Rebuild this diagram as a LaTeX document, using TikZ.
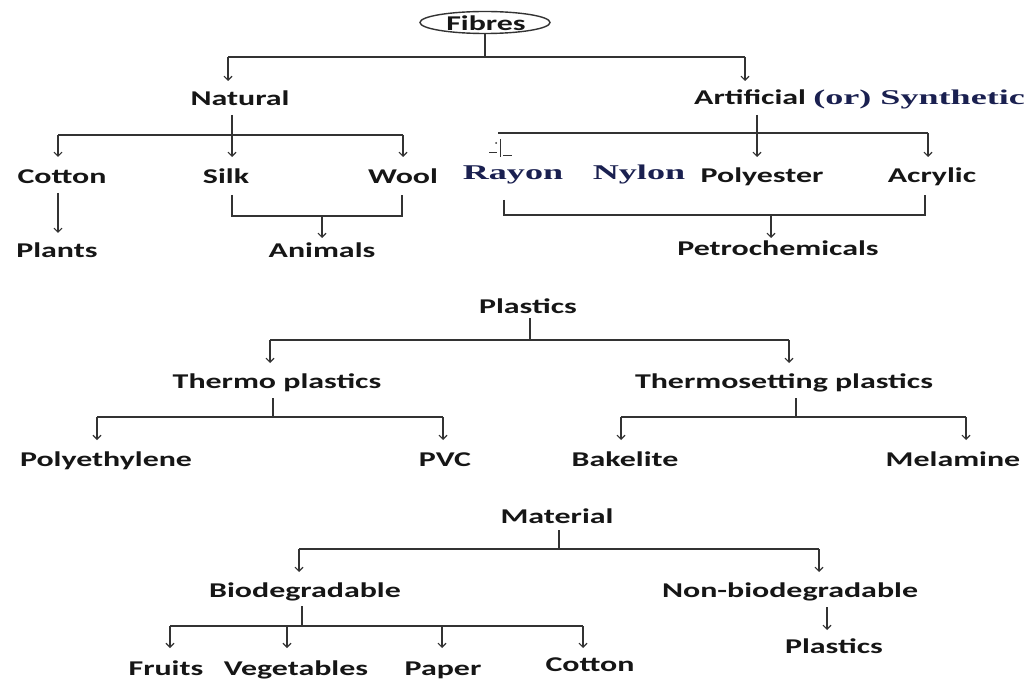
\documentclass[tikz,border=0pt]{standalone}
\usepackage{fontspec}
\setmainfont{Carlito}[FakeStretch=1.52]
\newfontfamily\serifb{Liberation Serif}[FakeStretch=1.72]
\usetikzlibrary{arrows.meta,shapes.geometric}
\definecolor{ink}{HTML}{161616}
\definecolor{navy}{HTML}{1A2050}
\definecolor{wire}{HTML}{333333}
\tikzset{
  lbl/.style={anchor=base, inner sep=0pt, font=\fontsize{21}{25}\selectfont\bfseries, text=ink},
  sf/.style={lbl, font=\fontsize{21}{25}\selectfont\serifb\bfseries, text=navy},
  wireline/.style={draw=wire, line width=1.1pt},
  arr/.style={wireline, -{Straight Barb[length=4pt,width=8pt]}},
}
\begin{document}
\begin{tikzpicture}[x=1pt,y=-1pt]
\fill[white] (0,0) rectangle (1026,679);
\useasboundingbox (0,0) rectangle (1026,679);

% ---------------- Fibres ----------------
\node[ellipse, draw=wire, line width=1.4pt, minimum width=130pt, minimum height=22pt, inner sep=0pt] (fibresE) at (485,22.5) {};
\node[lbl] (fibres) at (486,31) {Fibres};
\node[lbl] (natural) at (240,106) {Natural};
\node[lbl, anchor=base west] (artif) at (694,105) {Artificial {\serifb\color{navy}(or) Synthetic}};
\node[lbl] (cotton1) at (62,184) {Cotton};
\node[lbl] (silk) at (226,184) {Silk};
\node[lbl] (wool) at (403,184) {Wool};
\node[sf] (rayon) at (513,180) {Rayon};
\node[sf] (nylon) at (639,180) {Nylon};
\node[lbl] (polyester) at (762,183) {Polyester};
\node[lbl] (acrylic) at (932,183) {Acrylic};
\node[lbl] (plants) at (57,258) {Plants};
\node[lbl] (animals) at (322,258) {Animals};
\node[lbl] (petro) at (778,256) {Petrochemicals};

\coordinate (f1) at (fibresE.south |- 0,57);
\coordinate (fL) at (228,57); \coordinate (fR) at (745,57);
\coordinate (fLa) at (228,81); \coordinate (fRa) at (745,81);
\draw[wireline] (fibresE.south) -- (f1);
\draw[wireline] (fL) -- (fR);
\draw[arr] (fL) -- (fLa);
\draw[arr] (fR) -- (fRa);

\coordinate (n0) at (232,115); \coordinate (n1) at (232,135);
\coordinate (nL) at (58,135); \coordinate (nR) at (403,135);
\draw[wireline] (n0) -- (n1);
\draw[wireline] (nL) -- (nR);
\draw[arr] (nL) -- (58,157);
\draw[arr] (n1) -- (232,157);
\draw[arr] (nR) -- (403,157);

\coordinate (a0) at (757,115); \coordinate (a1) at (757,133);
\coordinate (aL) at (498,133); \coordinate (aR) at (928,133);
\draw[wireline] (aL) -- (aR);
\draw[arr] (a0) -- (757,157);
\draw[arr] (aR) -- (928,157);
% small broken mark above Rayon
\draw[wireline, line width=0.9pt] (500,139) -- (500,157);
\draw[wireline, line width=0.9pt] (489,152) -- (497,152);
\draw[wireline, line width=0.9pt] (503,155) -- (512,155);
\fill[wire] (496,143) circle (1pt);

\coordinate (c0) at (58,193); \coordinate (c1) at (58,233);
\draw[arr] (c0) -- (c1);

\coordinate (sw1) at (232,195); \coordinate (sw2) at (232,216);
\coordinate (sw3) at (402,216); \coordinate (sw4) at (402,195);
\draw[wireline] (sw1) -- (sw2) -- (sw3) -- (sw4);
\draw[arr] (322,216) -- (322,238);

\coordinate (p1) at (504,200); \coordinate (p2) at (504,215);
\coordinate (p3) at (925,215); \coordinate (p4) at (925,195);
\draw[wireline] (p1) -- (p2) -- (p3) -- (p4);
\draw[arr] (771,215) -- (771,238);

% ---------------- Plastics ----------------
\node[lbl] (plastics) at (528,313) {Plastics};
\node[lbl] (thermo) at (277,388) {Thermo plastics};
\node[lbl] (thermoset) at (784,388) {Thermosetting plastics};
\node[lbl] (polyeth) at (106,466) {Polyethylene};
\node[lbl] (pvc) at (445,466) {PVC};
\node[lbl] (bakelite) at (625,466) {Bakelite};
\node[lbl] (melamine) at (953,466) {Melamine};

\coordinate (q0) at (530,318); \coordinate (q1) at (530,340);
\coordinate (qL) at (270,340); \coordinate (qR) at (789,340);
\draw[wireline] (q0) -- (q1);
\draw[wireline] (qL) -- (qR);
\draw[arr] (qL) -- (270,363);
\draw[arr] (qR) -- (789,363);

\coordinate (t0) at (273,398); \coordinate (t1) at (273,417);
\coordinate (tL) at (97,417); \coordinate (tR) at (443,417);
\draw[wireline] (t0) -- (t1);
\draw[wireline] (tL) -- (tR);
\draw[arr] (tL) -- (97,440);
\draw[arr] (tR) -- (443,440);

\coordinate (s0) at (796,398); \coordinate (s1) at (796,417);
\coordinate (sL) at (621,417); \coordinate (sR) at (966,417);
\draw[wireline] (s0) -- (s1);
\draw[wireline] (sL) -- (sR);
\draw[arr] (sL) -- (621,440);
\draw[arr] (sR) -- (966,440);

% ---------------- Material ----------------
\node[lbl] (material) at (557,523) {Material};
\node[lbl] (bio) at (305,597) {Biodegradable};
\node[lbl] (nonbio) at (790,597) {Non-biodegradable};
\node[lbl] (fruits) at (166,675) {Fruits};
\node[lbl] (veg) at (296,675) {Vegetables};
\node[lbl] (paper) at (443,675) {Paper};
\node[lbl] (cotton2) at (590,671) {Cotton};
\node[lbl] (plastics2) at (834,653) {Plastics};

\coordinate (m0) at (559,530); \coordinate (m1) at (559,549);
\coordinate (mL) at (299,549); \coordinate (mR) at (819,549);
\draw[wireline] (m0) -- (m1);
\draw[wireline] (mL) -- (mR);
\draw[arr] (mL) -- (299,572);
\draw[arr] (mR) -- (819,572);

\coordinate (b0) at (302,606); \coordinate (b1) at (302,626);
\coordinate (bL) at (170,626); \coordinate (bR) at (583,626);
\draw[wireline] (b0) -- (b1);
\draw[wireline] (bL) -- (bR);
\draw[arr] (bL) -- (170,648);
\draw[arr] (287,626) -- (287,648);
\draw[arr] (442,626) -- (442,648);
\draw[arr] (bR) -- (583,648);

\draw[arr] (827,607) -- (827,630);
\end{tikzpicture}
\end{document}
